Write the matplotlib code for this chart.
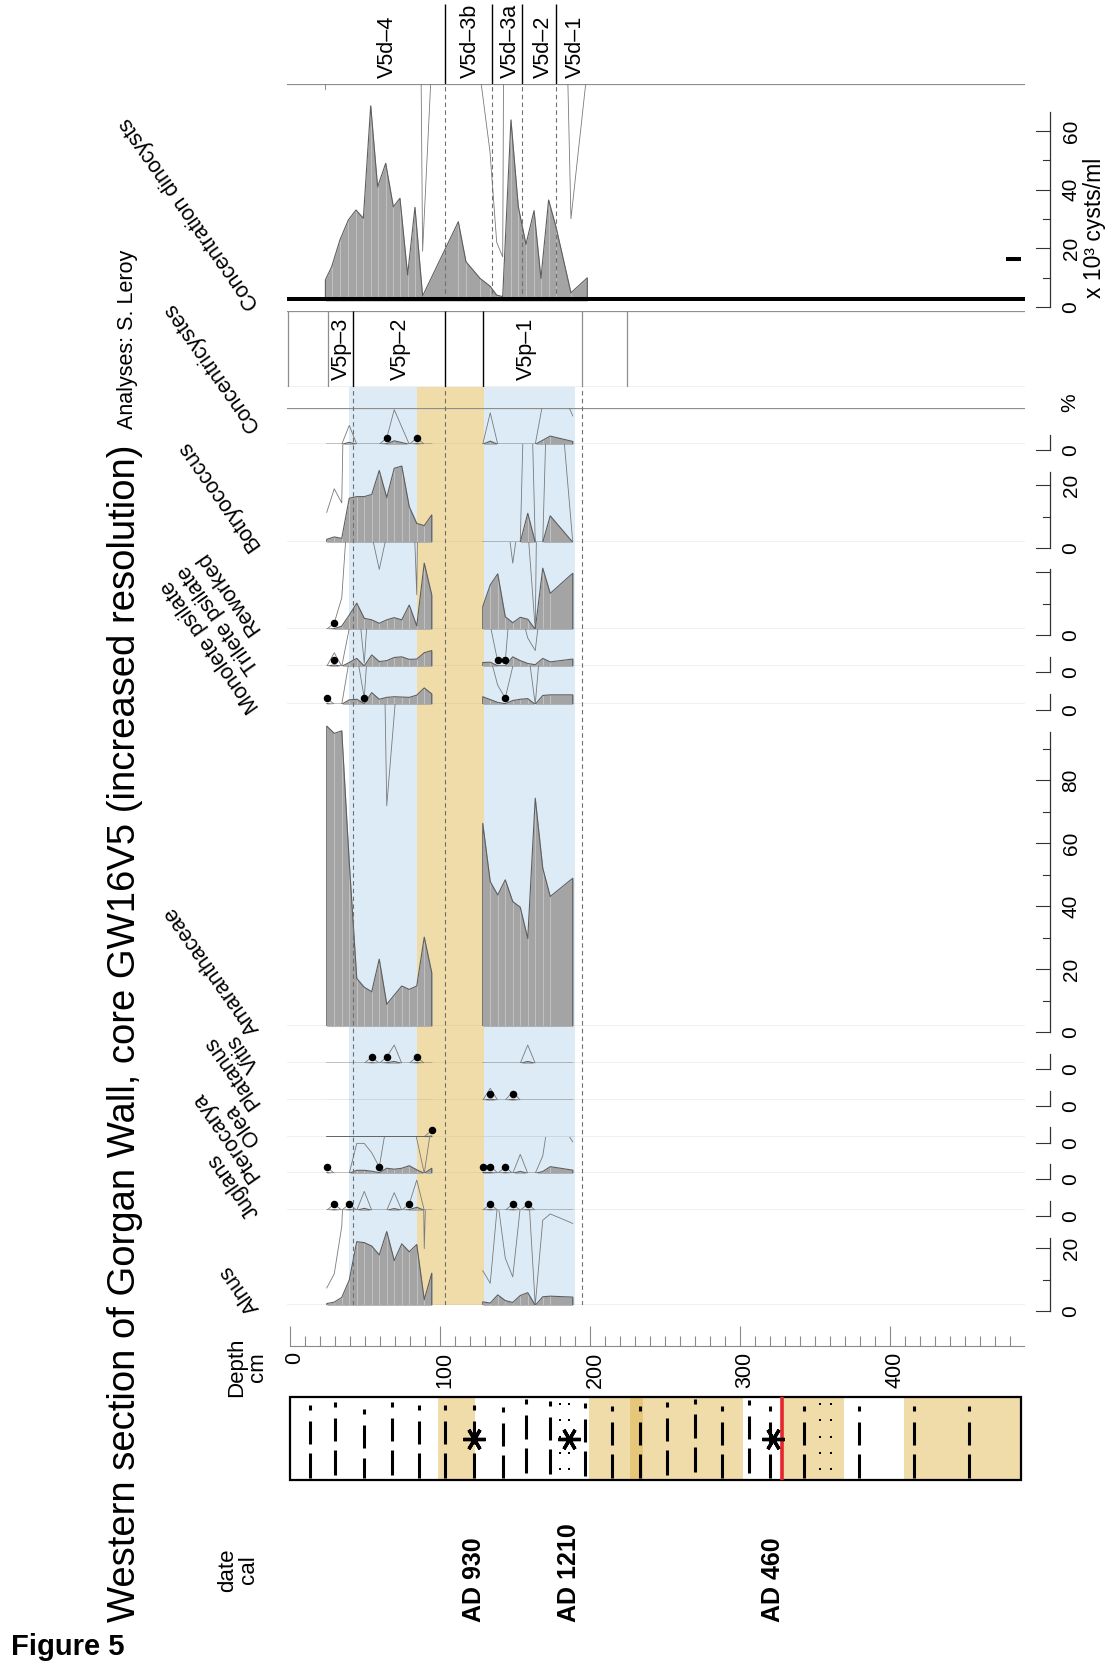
import numpy as np
import matplotlib
matplotlib.use("Agg")
import matplotlib.pyplot as plt
import matplotlib.transforms as mtransforms
from matplotlib.patches import Rectangle

plt.rcParams['font.family'] = ['Liberation Sans', 'DejaVu Sans']

# ----------------------------
# Data (depth in cm, values in % unless noted)
# ----------------------------
depth_pollen = [24.5, 29.5, 34.5, 39.5, 44.5, 49.5, 54.5, 59.5, 64.5, 69.5,
                74.5, 79.5, 84.5, 89.5, 94.5,
                128.5, 133.5, 138.5, 143.5, 148.5, 153.5, 158.5, 163.5,
                168.5, 173.5, 188.5]

alnus = [0.55, 1.0, 2.5, 8.0, 20.2, 19.9, 18.8, 16.0, 23.4, 14.2, 19.5, 17.0, 19.3, 1.8, 10.2,
         1.1, 0.7, 3.3, 1.5, 0.9, 3.1, 4.0, 0.0, 2.7, 2.9, 2.6]
juglans = [0, 0.2, 0, 0.2, 0, 0.6, 0, 0, 0, 0.56, 0, 0.2, 0.96, 0, 0,
           0, 0.2, 0, 0, 0.2, 0, 0.2, 0, 0, 0, 0]
pterocarya = [0.2, 0, 0, 0, 0.95, 0.95, 0.65, 0.2, 1.6, 1.3, 1.6, 2.4, 1.1, 0, 1.6,
              0.25, 0.25, 0, 0.2, 0, 0.6, 0, 0, 0.55, 2.1, 1.0]
olea = [0, 0, 0, 0, 0, 0, 0, 0, 0, 0, 0, 0, 0, 0, 0.2,
        0, 0, 0, 0, 0, 0, 0, 0, 0, 0, 0]
platanus = [0, 0, 0, 0, 0, 0, 0, 0, 0, 0, 0, 0, 0, 0, 0,
            0, 0.38, 0, 0, 0.28, 0, 0, 0, 0, 0, 0]
vitis = [0, 0, 0, 0, 0, 0, 0.2, 0, 0.2, 0.58, 0, 0, 0.2, 0, 0,
         0, 0, 0, 0, 0, 0, 0.58, 0, 0, 0, 0]
amaranthaceae = [95.3, 93.0, 93.8, 52.0, 15.2, 12.4, 11.0, 21.3, 7.0, 9.9, 12.8, 11.7, 12.8, 28.3, 17.0,
                 64.4, 45.9, 41.7, 46.5, 39.6, 37.8, 27.9, 72.4, 50.2, 41.2, 47.0]
monolete = [0.2, 0, 0, 1.4, 1.6, 0.2, 3.7, 1.6, 2.2, 2.4, 2.3, 2.2, 2.9, 5.2, 3.3,
            2.4, 1.5, 0.6, 0.2, 1.2, 1.6, 1.8, 0, 2.8, 3.0, 3.0]
trilete = [0, 0.43, 0, 1.2, 2.5, 0.1, 3.6, 1.5, 1.8, 2.8, 3.0, 2.2, 2.3, 4.3, 5.0,
           1.2, 1.3, 0.15, 0.15, 3.0, 1.8, 0.9, 0.5, 2.5, 1.4, 2.3]
reworked = [0, 0.2, 1.0, 4.5, 8.3, 3.5, 3.0, 1.9, 3.0, 3.7, 3.0, 7.7, 1.1, 21.0, 10.9,
            7.2, 14.1, 17.6, 4.0, 2.1, 3.8, 3.2, 0, 19.4, 11.4, 17.8]
botryococcus = [0.95, 1.7, 1.25, 14.0, 14.5, 14.5, 15.2, 22.8, 14.2, 23.5, 24.2, 11.3, 6.0, 5.3, 8.7,
                0, 0, 0, 0, 0, 0, 9.2, 0, 0, 8.4, 0]
concentricystes = [0, 0, 0, 0.6, 0, 0, 0, 0, 0.2, 1.1, 0.55, 0, 0.2, 0, 0,
                   0, 1.0, 0, 0, 0, 0, 0, 0, 1.3, 2.6, 0.9]

# single-grain markers (depths)
dots_juglans = [29.5, 39.5, 79.5, 133.5, 148.5, 158.5]
dots_pterocarya = [24.5, 59.5, 128.5, 133.5, 143.5]
dots_olea = [94.5]
dots_platanus = [133.5, 148.5]
dots_vitis = [54.5, 64.5, 84.5]
dots_monolete = [24.5, 49.5, 143.5]
dots_trilete = [29.5, 138.5, 143.5]
dots_reworked = [29.5]
dots_concentricystes = [64.5, 84.5]

# dinocyst concentration (x 10^3 cysts/ml)
depth_dino = [23.6, 27.8, 33.3, 38.9, 44.0, 48.9, 53.8, 58.4, 63.8, 68.9, 73.3, 78.4,
              83.3, 88.4, 112.2, 117.3, 126.7, 133.3, 137.8, 141.8, 147.3, 152.2,
              157.3, 162.7, 167.3, 172.4, 177.3, 187.3, 198.2]
conc_dino = [7.2, 11.7, 20.8, 27.6, 31.0, 28.2, 66.5, 38.9, 46.9, 32.1, 35.0, 8.9,
             31.9, 1.7, 27.0, 13.4, 7.7, 5.1, 2.0, 1.5, 61.7, 32.1, 19.3, 30.8,
             7.7, 34.4, 25.3, 2.8, 7.9]
conc_mark = (477.3, 487.1, 14.4)

# zones
dino_zone_bounds = [103.5, 134.9, 154.9, 177.5]
dino_zone_names = ['V5d\u20134', 'V5d\u20133b', 'V5d\u20133a', 'V5d\u20132', 'V5d\u20131']
dino_zone_mid = [64.9, 120.4, 146.7, 168.9, 190.0]
pollen_zone_black = [42.2, 103.5, 128.5]
pollen_zone_gray = [-1.5, 25.1, 194.4, 224.4]
pollen_zone_names = ['V5p\u20133', 'V5p\u20132', 'V5p\u20131']
pollen_zone_mid = [34.4, 73.3, 157.8]
pollen_dashed = [42.2, 103.5, 194.4]
blue_bands = [(39.3, 84.9), (129.1, 190.0)]
tan_bands = [(84.9, 129.1)]

# lithology
lith_tan = [(98.6, 123.3), (199.3, 301.7), (328.0, 369.3), (409.6, 487.0)]
lith_dark = [(226.5, 235.0)]
lith_cols = [13.3, 29.7, 49.0, 68.0, 85.7, 103.3, 122.9, 142.1, 157.3, 173.4, 196.5,
             214.7, 233.3, 251.5, 269.7, 287.9, 306.0, 320.1, 342.9, 379.5, 415.9, 452.7]
lith_shift = [0.03, -0.01, 0.08, -0.01, 0.03, 0.03, 0.03, 0.05, -0.04, -0.02, 0.0,
              0.04, 0.04, -0.01, -0.05, 0.04, -0.03, 0.04, 0.04, 0.04, 0.04, 0.04]
lith_sand = [180.0, 186.0, 353.3, 360.7]
lith_end = 487.0
hiatus_depth = 328.0
date_depths = [122.7, 185.7, 322.0]
date_labels = ['AD 930', 'AD 1210', 'AD 460']

# ----------------------------
# Look
# ----------------------------
W, H, DPI = 1110, 1663, 100
D0, D1 = -2.0, 490.0
X0_PX, X1_PX = 287.0, 1025.0
PPU = 3.15            # px per percent
PPU_CONC = 2.935      # px per 10^3 cysts/ml
EXAG = 10
DOT_Y = 2.1
LABEL_X = 260
LABEL_SIZE = 15.5

FILL_COLOR = '#a4a4a4'
EDGE_COLOR = '#5e5e5e'
SAMPLE_COLOR = '#c6c6c6'
EXAG_COLOR = '#7a7a7a'
PANEL_LINE = '#8e8e8e'
DASH_COLOR = '#6e6e6e'
BLUE = '#dcebf6'
TAN = '#f0dca8'
TAN_DARK = '#e6c679'
AXIS_COLOR = '#333333'

fig = plt.figure(figsize=(W / DPI, H / DPI), dpi=DPI)


def fx(x):
    return x / W


def fy(y):
    return 1 - y / H


def band_axes(top, base):
    ax = fig.add_axes([fx(X0_PX), fy(base), (X1_PX - X0_PX) / W, (base - top) / H])
    ax.set_xlim(D0, D1)
    ax.axis('off')
    return ax


def runs(depths, gap=30.0):
    d = np.asarray(depths, float)
    cuts = np.where(np.diff(d) > gap)[0] + 1
    return np.split(np.arange(len(d)), cuts)


def draw_curve(ax, depths, values, dots=()):
    d = np.asarray(depths, float)
    v = np.asarray(values, float)
    for idx in runs(d):
        ds, vs = d[idx], v[idx]
        ax.fill_between(ds, 0, vs, color=FILL_COLOR, lw=0, zorder=2)
        ax.vlines(ds, 0, vs, color=SAMPLE_COLOR, lw=0.6, zorder=3)
        ax.plot(ds, vs * EXAG, color=EXAG_COLOR, lw=0.6, zorder=2.5)
        ax.plot(np.r_[ds[0], ds, ds[-1]], np.r_[0, vs, 0], color=EDGE_COLOR, lw=0.8, zorder=4)
    if len(dots):
        ax.plot(dots, [DOT_Y] * len(dots), 'o', color='k', ms=4.4, zorder=6, clip_on=False)


def right_axis(ax, top, labels, step=10):
    tr = ax.get_yaxis_transform() + mtransforms.ScaledTranslation(0, -6 / DPI, fig.dpi_scale_trans)
    span = X1_PX - X0_PX
    xa = (1050 - X0_PX) / span
    xlong = (1036 - X0_PX) / span
    xshort = (1043 - X0_PX) / span
    xlab = (1071 - X0_PX) / span
    ax.plot([xa, xa], [0, top], transform=tr, color=AXIS_COLOR, lw=0.9, clip_on=False)
    t = 0
    while t <= top + 1e-9:
        x0 = xlong if t % 20 == 0 else xshort
        ax.plot([x0, xa], [t, t], transform=tr, color=AXIS_COLOR, lw=0.8, clip_on=False)
        t += step
    for lab in labels:
        ax.text(xlab, float(lab), lab, transform=tr, rotation=90, ha='center', va='center',
                fontsize=15)


# ----------------------------
# Background bands behind the taxa
# ----------------------------
axbg = band_axes(387.0, 1305.3)
axbg.set_ylim(0, 1)
for a, b in blue_bands:
    axbg.axvspan(a, b, color=BLUE, lw=0)
for a, b in tan_bands:
    axbg.axvspan(a, b, color=TAN, lw=0)

# ----------------------------
# Taxa panels: (name, values, dots, top px, base px, labels, label shift px)
# ----------------------------
panels = [
    ('Concentricystes', concentricystes, dots_concentricystes, 408.3, 444.3, ['0'], -18),
    ('Botryococcus', botryococcus, [], 444.3, 542.3, ['0', '20'], 3),
    ('Reworked', reworked, dots_reworked, 542.3, 629.3, ['0'], 0),
    ('Trilete psilate', trilete, dots_trilete, 629.3, 666.3, ['0'], 2),
    ('Monolete psilate', monolete, dots_monolete, 666.3, 704.3, ['0'], 3),
    ('Amaranthaceae', amaranthaceae, [], 704.3, 1026.3, ['0', '20', '40', '60', '80'], 3),
    ('Vitis', vitis, dots_vitis, 1026.3, 1063.3, ['0'], 3),
    ('Platanus', platanus, dots_platanus, 1063.3, 1100.3, ['0'], 3),
    ('Olea', olea, dots_olea, 1100.3, 1136.7, ['0'], 3),
    ('Pterocarya', pterocarya, dots_pterocarya, 1136.7, 1173.3, ['0'], 3),
    ('Juglans', juglans, dots_juglans, 1173.3, 1210.3, ['0'], 3),
    ('Alnus', alnus, [], 1210.3, 1305.3, ['0', '20'], 3),
]

for name, vals, dots, top, base, labels, shift in panels:
    ax = band_axes(top, base)
    ax.set_ylim(0, (base - top) / PPU)
    ax.axhline(0, color=PANEL_LINE, lw=0.9, zorder=1.5)
    if name == 'Concentricystes':
        ax.axhline((base - top) / PPU, color=PANEL_LINE, lw=0.9)
    draw_curve(ax, depth_pollen, vals, dots)
    right_axis(ax, max(5.0, max(vals)), labels)
    fig.text(fx(LABEL_X), fy(base + shift), name, rotation=125, rotation_mode='anchor',
             ha='left', va='baseline', fontsize=LABEL_SIZE)

fig.text(fx(1070), fy(403), '%', rotation=90, ha='center', va='center', fontsize=15)

# dashed zone lines over the taxa
axfg = band_axes(387.0, 1305.3)
axfg.set_ylim(0, 1)
for d in pollen_dashed:
    axfg.axvline(d, color=DASH_COLOR, lw=0.8, ls=(0, (4, 3)))

# ----------------------------
# Pollen zone box
# ----------------------------
axz = band_axes(311.0, 387.0)
axz.set_ylim(0, 1)
axz.axhline(0, color=PANEL_LINE, lw=0.9)
axz.axhline(1, color=PANEL_LINE, lw=0.9)
axz.vlines(pollen_zone_gray, 0, 1, color=PANEL_LINE, lw=0.9)
axz.vlines(pollen_zone_black, 0, 1, color='k', lw=1.0)
for d, lab in zip(pollen_zone_mid, pollen_zone_names):
    axz.text(d, 0.09, lab, rotation=90, ha='center', va='bottom', fontsize=15.5)

# ----------------------------
# Dinocyst concentration
# ----------------------------
c_top, c_base = 84.3, 301.0
axc = band_axes(c_top, c_base)
axc.set_ylim(0, (c_base - c_top) / PPU_CONC)
axc.axhline((c_base - c_top) / PPU_CONC, color=PANEL_LINE, lw=0.9)
for d in dino_zone_bounds:
    axc.axvline(d, color=DASH_COLOR, lw=0.8, ls=(0, (4, 3)), zorder=5)
draw_curve(axc, depth_dino, conc_dino)
axc.axhline(0, color='k', lw=6.5, zorder=6)
axc.plot(conc_mark[:2], [conc_mark[2]] * 2, color='k', lw=2.9, solid_capstyle='butt')
right_axis(axc, max(conc_dino), ['0', '20', '40', '60'])
fig.text(fx(1095), fy(228), 'x 10\u00b3 cysts/ml', rotation=90, ha='center', va='center',
         fontsize=16.5)
fig.text(fx(LABEL_X), fy(c_base + 3), 'Concentration dinocysts', rotation=125,
         rotation_mode='anchor', ha='left', va='baseline', fontsize=LABEL_SIZE)

# dinocyst zone header
axh = band_axes(0.0, c_top)
axh.set_ylim(0, 1)
axh.vlines(dino_zone_bounds, 0, (c_top - 4) / c_top, color='k', lw=1.0)
for d, lab in zip(dino_zone_mid, dino_zone_names):
    axh.text(d, 6 / c_top, lab, rotation=90, ha='center', va='bottom', fontsize=15.5)

# ----------------------------
# Depth axis
# ----------------------------
axd = fig.add_axes([fx(X0_PX), fy(1346), (X1_PX - X0_PX) / W, 22 / H])
axd.set_xlim(D0, D1)
axd.patch.set_alpha(0)
for s in ['top', 'left', 'right']:
    axd.spines[s].set_visible(False)
axd.spines['bottom'].set_color('#8a8a8a')
axd.spines['bottom'].set_bounds(0, 489)
axd.set_yticks([])
axd.set_xticks(np.arange(0, 401, 100))
axd.set_xticks(np.arange(0, 481, 10), minor=True)
axd.tick_params(axis='x', which='major', direction='in', length=14.4, width=0.8,
                color='#8a8a8a', labelsize=15.5, labelrotation=90, pad=4)
axd.tick_params(axis='x', which='minor', direction='in', length=7.2, width=0.8, color='#8a8a8a')
label_nudge = mtransforms.ScaledTranslation(5 / DPI, 0, fig.dpi_scale_trans)
for lab in axd.get_xticklabels():
    lab.set_transform(lab.get_transform() + label_nudge)
fig.text(fx(247), fy(1367), 'Depth\ncm', rotation=90, ha='center', va='center',
         fontsize=16, multialignment='center', linespacing=1.0)

# ----------------------------
# Lithology
# ----------------------------
axl = fig.add_axes([fx(X0_PX), fy(1480), (X1_PX - X0_PX) / W, 83 / H])
axl.set_xlim(D0, D1)
axl.set_ylim(1, 0)
axl.axis('off')
for a, b in lith_tan:
    axl.fill_between([a, b], 0, 1, color=TAN, lw=0)
for a, b in lith_dark:
    axl.fill_between([a, b], 0, 1, color=TAN_DARK, lw=0)
for d, s in zip(lith_cols, lith_shift):
    for y0, y1 in [(0.07, 0.13), (0.26, 0.54), (0.65, 0.95)]:
        axl.plot([d, d], [max(0.03, y0 + s), min(0.97, y1 + s)], color='k', lw=2.2,
                 solid_capstyle='butt')
for d in lith_sand:
    axl.plot([d] * 5, [0.085, 0.28, 0.48, 0.67, 0.865], 's', color='k', ms=1.8, mew=0)
axl.axvline(hiatus_depth, color='#e5262a', lw=2.6)
axl.plot(date_depths, [0.5] * len(date_depths), ls='none', marker=(6, 2, 90), ms=16,
         mew=2.4, color='k')
axl.add_patch(Rectangle((0, 0), lith_end, 1, fill=False, ec='k', lw=1.6, clip_on=False))

date_tr = mtransforms.blended_transform_factory(axl.transData, fig.transFigure)
for d, lab in zip(date_depths, date_labels):
    axl.text(d, fy(1622), lab, transform=date_tr, rotation=90, ha='center', va='bottom',
             fontsize=18, fontweight='bold')
fig.text(fx(238), fy(1570), 'date\ncal', rotation=90, ha='center', va='center',
         fontsize=16, multialignment='center', linespacing=1.0)

# ----------------------------
# Titles
# ----------------------------
fig.text(fx(125), fy(1622), 'Western section of Gorgan Wall, core GW16V5 (increased resolution)',
         rotation=90, ha='center', va='bottom', fontsize=27.5)
fig.text(fx(128), fy(429), 'Analyses: S. Leroy', rotation=90, ha='center', va='bottom',
         fontsize=15.5)
fig.text(fx(11), fy(1655), 'Figure 5', ha='left', va='baseline', fontsize=21,
         fontweight='bold')

fig.savefig('out.png', dpi=DPI)
